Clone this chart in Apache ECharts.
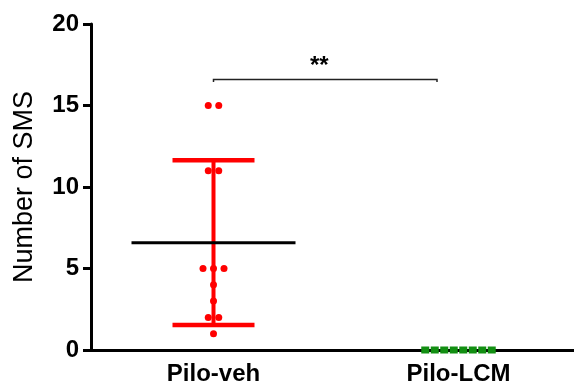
<!DOCTYPE html>
<html><head><meta charset="utf-8">
<script src="https://cdn.jsdelivr.net/npm/echarts@6/dist/echarts.min.js"></script>
<style>html,body{margin:0;padding:0;background:#fff}#c{width:574px;height:390px}</style>
</head><body><div id="c"></div>
<script>
const categories = ['Pilo-veh', 'Pilo-LCM'];
const piloVeh = [15, 15, 11, 11, 5, 5, 5, 4, 3, 2, 2, 1];
const piloLCM = [0, 0, 0, 0, 0, 0, 0, 0];
const yTicks = [0, 5, 10, 15, 20];
const significance = '**';
const bracketValue = 16.6;

const FONT = '"Liberation Sans", Arial, Helvetica, sans-serif';

function mean(a) { return a.reduce((s, v) => s + v, 0) / a.length; }
function sd(a) {
  const m = mean(a);
  return Math.sqrt(a.reduce((s, v) => s + (v - m) * (v - m), 0) / (a.length - 1));
}
function swarm(values, catIndex, spacing) {
  const counts = {};
  values.forEach(v => { counts[v] = (counts[v] || 0) + 1; });
  const seen = {};
  return values.map(v => {
    const n = counts[v];
    const k = seen[v] || 0;
    seen[v] = k + 1;
    return { value: [catIndex, v], symbolOffset: [(k - (n - 1) / 2) * spacing, 0] };
  });
}

const stats = [
  [0, mean(piloVeh), sd(piloVeh)],
  [1, mean(piloLCM), sd(piloLCM)]
];

const chart = echarts.init(document.getElementById('c'), null, { renderer: 'canvas' });
chart.setOption({
  animation: false,
  backgroundColor: '#fff',
  grid: { left: 91, right: -7, top: 24, bottom: 40, containLabel: false, outerBoundsMode: 'none' },
  xAxis: {
    type: 'category',
    data: categories,
    axisLine: { lineStyle: { color: '#000', width: 3 } },
    axisTick: { alignWithLabel: true, length: 7, lineStyle: { color: '#000', width: 3 } },
    axisLabel: { color: '#000', fontFamily: FONT, fontWeight: 'bold', fontSize: 24, margin: 12 },
    splitLine: { show: false }
  },
  yAxis: {
    type: 'value',
    min: yTicks[0],
    max: yTicks[yTicks.length - 1],
    interval: yTicks[1] - yTicks[0],
    name: 'Number of SMS',
    nameLocation: 'middle',
    nameGap: 53,
    nameTextStyle: { color: '#000', fontFamily: FONT, fontSize: 27 },
    axisLine: { show: true, lineStyle: { color: '#000', width: 3 } },
    axisTick: { show: true, length: 8, lineStyle: { color: '#000', width: 3 } },
    axisLabel: { color: '#000', fontFamily: FONT, fontWeight: 'bold', fontSize: 24, margin: 12 },
    splitLine: { show: false }
  },
  series: [
    {
      type: 'custom',
      z: 2,
      data: stats,
      renderItem: function (params, api) {
        const x = api.value(0), m = api.value(1), s = api.value(2);
        const c = api.coord([x, m]);
        const children = [];
        if (s > 0) {
          const top = api.coord([x, m + s]);
          const bot = api.coord([x, m - s]);
          const st = { stroke: '#ff0000', lineWidth: 4.5 };
          children.push({ type: 'line', shape: { x1: c[0], y1: top[1], x2: c[0], y2: bot[1] }, style: { stroke: '#ff0000', lineWidth: 4 } });
          children.push({ type: 'line', shape: { x1: c[0] - 41, y1: top[1], x2: c[0] + 41, y2: top[1] }, style: st });
          children.push({ type: 'line', shape: { x1: c[0] - 41, y1: bot[1], x2: c[0] + 41, y2: bot[1] }, style: st });
          children.push({ type: 'line', shape: { x1: c[0] - 82, y1: c[1], x2: c[0] + 82, y2: c[1] }, style: { stroke: '#000', lineWidth: 3 }, z2: 5 });
        }
        return { type: 'group', children: children };
      }
    },
    {
      type: 'scatter',
      z: 3,
      symbol: 'circle',
      symbolSize: 7,
      itemStyle: { color: '#ff0000', opacity: 1 },
      data: swarm(piloVeh, 0, 10.5)
    },
    {
      type: 'scatter',
      z: 3,
      symbol: 'rect',
      symbolSize: [8, 7],
      itemStyle: { color: '#128f12', opacity: 1 },
      data: swarm(piloLCM, 1, 9.5)
    },
    {
      type: 'custom',
      z: 4,
      data: [[0, 1, bracketValue]],
      renderItem: function (params, api) {
        const l = api.coord([api.value(0), api.value(2)]);
        const r = api.coord([api.value(1), api.value(2)]);
        const x1 = l[0], x2 = r[0] - 21.5, y = l[1];
        return {
          type: 'group',
          children: [
            { type: 'polyline', shape: { points: [[x1, y + 2.5], [x1, y], [x2, y], [x2, y + 2.5]] }, style: { stroke: '#222', lineWidth: 1.5, fill: null } },
            { type: 'text', x: (x1 + x2) / 2 - 6, y: y - 13, style: { text: significance, fill: '#000', font: 'bold 24px ' + FONT, align: 'center', verticalAlign: 'middle' } }
          ]
        };
      }
    }
  ]
});
</script>
</body></html>
